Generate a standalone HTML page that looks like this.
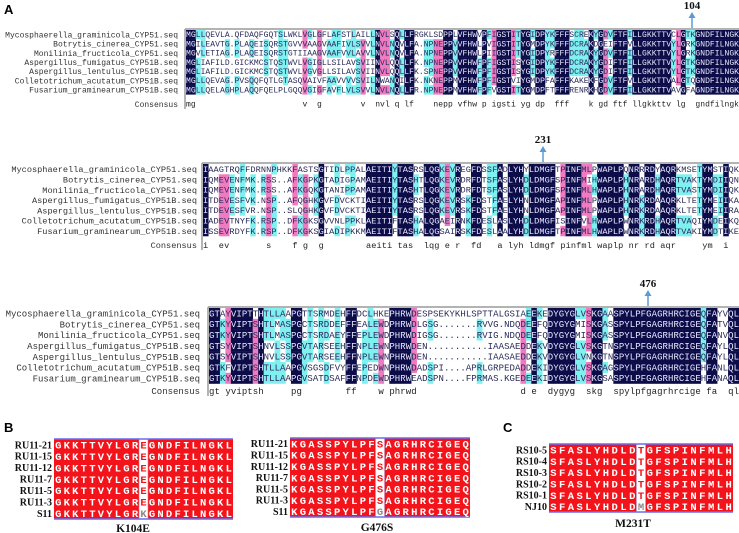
<!DOCTYPE html>
<html><head><meta charset="utf-8">
<style>
html,body{margin:0;padding:0;background:#fff;}
#wrap{position:relative;width:739px;height:533px;overflow:hidden;}
svg{position:absolute;left:0;top:0;}
</style></head>
<body>
<div id="wrap">
<svg id="fig" width="739" height="533" viewBox="0 0 739 533">
  <text x="4" y="14" font-family="Liberation Sans, sans-serif" font-weight="bold" font-size="13">A</text>
  <text x="4" y="432" font-family="Liberation Sans, sans-serif" font-weight="bold" font-size="13">B</text>
  <text x="503" y="432" font-family="Liberation Sans, sans-serif" font-weight="bold" font-size="13">C</text>
</svg>
</div>
<script>
const speciesNames = ["Mycosphaerella_graminicola_CYP51.seq","Botrytis_cinerea_CYP51.seq","Monilinia_fructicola_CYP51.seq","Aspergillus_fumigatus_CYP51B.seq","Aspergillus_lentulus_CYP51B.seq","Colletotrichum_acutatum_CYP51B.seq","Fusarium_graminearum_CYP51B.seq"];
const block1Seqs = [
"MGLLQEVLA.QFDAQFGQTSLWKLVGLGFLAFSTLAILLNVLSQLLFRGKLSDPPLVFHWVPFIGSTITYGIDPYKFFFSCREKYGDVFTFILLGKKTTVCLGTKGNDFILNGK",
"MGILEAVTG.PLAQEISQRSTGVVVAAGVAAFIVLSVVLNVLNQVLFA.NPNEPPVVFHWLPVIGSTITYGMDPYKFFFDCRAKDGEIFTFVLLGKKTTVYLGRKGNDFILNGK",
"MGVLETIAG.PLAQEISQRSTGTIIAAGVAAFVVLAVVLNVLNQVLFA.NPNEPPVVFHWLPIIGSTITYGIDPYRFFFDCRAKYGDVFTFILLGKKTTVYLGRKGNDFILNGK",
"MGLIAFILD.GICKMCSTQSTWVLVGIGLLSILAVSVIINVLQQLLFK.NPNEPPVVFHWFPFIGSTISYGIDPYKFFFDCRAKYGDIFTFILLGKKTTVYLGTKGNDFILNGK",
"MGLIAFILD.GICKMCSTQSTWVLVGVGLLSILAVSVIINVLQQLLFK.SPNEPPVVFHWFPFIGSTISYGIDPYKFFFDCRAKYGDIFTFILLGKKTTVYLGTKGNDFILNGK",
"MGLLQEVAG.PVSQQFQTLGTASQVAIVFAAVVVVSVILNWANQILFK.NKNEPPMVFHWFPFIGSTVIYGMDPFAFFFKAKEKFGDVFTFVLLGKKTTVALGTQGNDFILNGK",
"MGLLQELAGHPLAQQFQELPLGQQVGIGFAVFLVLSVVLNVLNQLLFR.NPNEPPMVFHWFPFVGSTITYGMDPFTFFFRENRKHGDVFTFILLGKKTTVAVGFAGNDFILNGK"];
const block2Seqs = [
"IAAGTRQFFDRNNPHKKFASTSGTIDLPPALAEITIYTASRSLQGKEVREGFDSSFADLYHYLDMGFTPINFMLPWAPLPQNRRRDYAQRKMSETYMSTIQK",
"IQMEVENFMK.RSS..AFKGPKGTADIGPAMAEITIYTASHTLQGKEVRDRFDTSFASLYHDLDMGFSPINFMIHWAPLPHNRARDHAQRTVAKTYMDIIQN",
"IQMEVENFMK.RSS..AFKGQKGTANIPPAMAEITIYTASHTLQGKEVRDRFDTSFASLYHDLDMGFSPINFMLHWAPLPHNRARDHAQRTVASTYMDIIQK",
"ITDEVESFVK.NSP..AFQGHKGVFDVCKTIAEITIYTASRSLQGKEVRSKFDSTFAELYHNLDMGFAPINFMLPWAPLPHNRKRDAAQRKLTETYMEIIKA",
"ITDEVESFVR.NSP..SLQGHKGVFDVCKTIAEITIYTASRSLQGKEVRSKFDSTFAELYHNLDMGFAPINFMLPWAPLPHNRKRDAAQRKLTETYMEIIRA",
"IADEVTNYFK.RSP..DFKGKSGVVNLPPKLAEITIFTASHALQGAEIRNKFDESLASLYHDLDMGFISINFVLHWAPLPWNRKRDHAQRTVAQIYMDEIKQ",
"ISSEVRDYFK.RSP..DFKGKSGIADIPKKMAEITIFTASHALQGSAIRSKFDESLAALYHDLDMGFTPINFMLHWAPLPWNRKRDHAQRTVAKIYMDTIKE"];
const block3Seqs = [
"GTAYVIPTTHTLLAAPGTTSRMDEHFFDCLHKEPHRWDESPSEKYKHLSPTTALGSIAEEKEDYGYGLVSKGAASPYLPFGAGRHRCIGEQFAYVQL",
"GTKYVIPTSHTLMASPGCTSRDDEFFFEALEWDPHRWDLGSG.......RVVG.NDQDEEFQDYGYGMISKGASSPYLPFGAGRHRCIGEQFATVQL",
"GTKYVIPTSHTLMASPGCTSRDAEYFFEPLEWDPHRWDIGSG.......RVIG.NDQDEEFQDYGYGMISKGASSPYLPFGAGRHRCIGEQFANVQL",
"GTSYVIPTSHNVLSSPGVTARSEEHFFNPLEWNPHRWDEN...........IAASAEDDEKVDYGYGLVSKGTNSPYLPFGAGRHRCIGEQFAYLQL",
"GTSYVIPTSHNVLSSPGVTARSEEHFFNPLEWNPHRWDEN...........IAASAEDDEKVDYGYGLVNKGTNSPYLPFGAGRHRCIGEQFAYLQL",
"GTKFVIPTSHTLLAAPGVSGSDFVYFFEPEDWNPHRWDADSPI....APRLGRPEDADDEKIDYGYGLVSKGAGSPYLPFGAGRHRCIGEHFANLQL",
"GTKYVIPTSHTLLAAPGVSATDSAFFFNPDEWDPHRWEADSPN....FPRMAS.KGEDEEKIDYGYGLVSKGSASPYLPFGAGRHRCIGEHFANAQL"];
const markerLabels = ["104","231","476"];

const isolatesB = ["RU11-21","RU11-15","RU11-12","RU11-7","RU11-5","RU11-3","S11"];
const seqB1 = ["GKKTTVYLGREGNDFILNGKL","GKKTTVYLGREGNDFILNGKL","GKKTTVYLGREGNDFILNGKL","GKKTTVYLGREGNDFILNGKL","GKKTTVYLGREGNDFILNGKL","GKKTTVYLGREGNDFILNGKL","GKKTTVYLGRKGNDFILNGKL"];
const seqB2 = ["KGASSPYLPFSAGRHRCIGEQ","KGASSPYLPFSAGRHRCIGEQ","KGASSPYLPFSAGRHRCIGEQ","KGASSPYLPFSAGRHRCIGEQ","KGASSPYLPFSAGRHRCIGEQ","KGASSPYLPFSAGRHRCIGEQ","KGASSPYLPFGAGRHRCIGEQ"];
const isolatesC = ["RS10-5","RS10-4","RS10-3","RS10-2","RS10-1","NJ10"];
const seqC = ["SFASLYHDLDTGFSPINFMLH","SFASLYHDLDTGFSPINFMLH","SFASLYHDLDTGFSPINFMLH","SFASLYHDLDTGFSPINFMLH","SFASLYHDLDTGFSPINFMLH","SFASLYHDLDMGFSPINFMLH"];
const mutTitles = ["K104E","G476S","M231T"];

const NS = "http://www.w3.org/2000/svg";
const svg = document.getElementById("fig");
function mk(tag, attrs){ const e=document.createElementNS(NS,tag); for(const k in attrs) e.setAttribute(k,attrs[k]); return e; }

function drawBlock(seqsIn, cfg, bi){
  const g = mk("g",{});
  
  
  svg.appendChild(g);
  const ncol = seqsIn[0].length;
  const seqs = seqsIn.map(s=>s.length>=ncol?s.slice(0,ncol):s+" ".repeat(ncol-s.length));
  const cw = (739 - cfg.left - 1) / ncol;
  const consensus = [];
  for(let c=0;c<ncol;c++){
    const counts={};
    seqs.forEach(s=>{const ch=s[c]; if(ch!=='.' && ch!==' ') counts[ch]=(counts[ch]||0)+1;});
    let best=null,bc=0; for(const k in counts){ if(counts[k]>bc){bc=counts[k];best=k;} }
    consensus.push(bc>=6?best.toLowerCase():' ');
    seqs.forEach((s,r)=>{
      const ch=s[c]; if(ch==='.'||ch===' ') return;
      const n=counts[ch]; let fill=null;
      if(n===7) fill="#0c0c48"; else if(n===6) fill="#f07ac0"; else if(n>=4) fill="#7ff0f0";
      if(fill){
        const rc=mk("rect",{x:(cfg.left+1+c*cw).toFixed(2),y:(cfg.top+1+r*cfg.rh).toFixed(2),width:(cw+0.3).toFixed(2),height:(cfg.rh+0.2).toFixed(2),fill:fill});
        
        
        g.appendChild(rc);
      }
    });
  }
  const tl=mk("line",{x1:cfg.left,y1:cfg.top,x2:739,y2:cfg.top,stroke:"#9a9a9a","stroke-width":1.5});
  
  
  g.appendChild(tl);
  const vl=mk("line",{x1:cfg.left,y1:cfg.top,x2:cfg.left,y2:cfg.consY+5,stroke:"#9a9a9a","stroke-width":1.5});
  
  
  g.appendChild(vl);
  seqs.forEach((s,r)=>{
    const cy = cfg.top+1+(r+0.5)*cfg.rh;
    const lab=mk("text",{x:cfg.labelX,y:(cy+cfg.fs*0.35).toFixed(2),"text-anchor":"end","font-family":"Liberation Mono, monospace","font-size":cfg.fs,fill:"#333"});
    lab.textContent=speciesNames[r];
    
    
    g.appendChild(lab);
    for(let c=0;c<s.length;c++){
      const ch=s[c];
      if(ch===' ') continue;
      const counts=seqs.filter(q=>q[c]===ch).length;
      const t=mk("text",{x:(cfg.left+1+(c+0.5)*cw).toFixed(2),y:(cy+cfg.fs*0.33).toFixed(2),"text-anchor":"middle","font-family":"Liberation Mono, monospace","font-size":cfg.fs,fill:(counts===7&&ch!=='.')?"#e8e8ff":"#2a2a5a"});
      t.textContent=ch;
      
      
      g.appendChild(t);
    }
  });
  const cl=mk("text",{x:cfg.labelX,y:(cfg.consY+cfg.fs*0.35).toFixed(2),"text-anchor":"end","font-family":"Liberation Mono, monospace","font-size":cfg.fs,fill:"#333"});
  cl.textContent="Consensus";
  
  
  g.appendChild(cl);
  consensus.forEach((ch,c)=>{
    if(ch===' ') return;
    const t=mk("text",{x:(cfg.left+1+(c+0.5)*cw).toFixed(2),y:(cfg.consY+cfg.fs*0.33).toFixed(2),"text-anchor":"middle","font-family":"Liberation Mono, monospace","font-size":cfg.fs,fill:"#222"});
    t.textContent=ch;
    
    
    g.appendChild(t);
  });
  const ax=cfg.arrowX;
  const mt=mk("text",{x:ax,y:cfg.top-20,"text-anchor":"middle","font-family":"Liberation Serif, serif","font-weight":"bold","font-size":11,fill:"#111"});
  mt.textContent=markerLabels[bi];
  
  
  g.appendChild(mt);
  const sh=mk("line",{x1:ax,y1:cfg.top-12,x2:ax,y2:cfg.top-1,stroke:"#5b9bd5","stroke-width":1.5});
  
  
  g.appendChild(sh);
  const hd=mk("polygon",{points:`${ax-3.5},${cfg.top-11} ${ax+3.5},${cfg.top-11} ${ax},${cfg.top-17}`,fill:"#5b9bd5"});
  
  
  g.appendChild(hd);
}

drawBlock(block1Seqs,{left:185,top:29,rh:9.2,consY:104,labelX:178,fs:8,arrowX:692},0);
drawBlock(block2Seqs,{left:202,top:163,rh:10.3,consY:245,labelX:197,fs:8.6,arrowX:543},1);
drawBlock(block3Seqs,{left:208,top:307,rh:10.8,consY:391,labelX:200,fs:9,arrowX:648},2);

function drawMut(labels, seqs, cfg, idx){
  const g=mk("g",{});
  
  
  svg.appendChild(g);
  const ncol=seqs[0].length;
  const cw=(cfg.right-cfg.left)/ncol;
  const rh=(cfg.bottom-cfg.top)/seqs.length;
  const bg=mk("rect",{x:cfg.left,y:cfg.top,width:cfg.right-cfg.left,height:cfg.bottom-cfg.top,fill:"#f2141a"});
  
  
  g.appendChild(bg);
  const mr=mk("rect",{x:cfg.left+cfg.mut*cw,y:cfg.top,width:cw,height:cfg.bottom-cfg.top,fill:"#fff",stroke:"#c8c8f0","stroke-width":0.8});
  
  
  g.appendChild(mr);
  [cfg.top,cfg.bottom].forEach(y=>{
    const l=mk("line",{x1:cfg.left,y1:y,x2:cfg.right,y2:y,stroke:"#6b6bf0","stroke-width":1.5});
    
    
    g.appendChild(l);
  });
  seqs.forEach((s,r)=>{
    const cy=cfg.top+(r+0.5)*rh;
    const lab=mk("text",{x:cfg.left-2,y:(cy+3.6).toFixed(2),"text-anchor":"end","font-family":"Liberation Serif, serif","font-weight":"bold","font-size":10,fill:"#111"});
    lab.textContent=labels[r];
    
    
    g.appendChild(lab);
    for(let c=0;c<ncol;c++){
      const isM=c===cfg.mut;
      const ref=seqs[0][c];
      const t=mk("text",{x:(cfg.left+(c+0.5)*cw).toFixed(2),y:(cy+3.8).toFixed(2),"text-anchor":"middle","font-family":"Liberation Mono, monospace","font-weight":"bold","font-size":cfg.fs,fill:isM?(s[c]===ref?"#f2141a":"#888"):"#fff"});
      t.textContent=s[c];
      
      
      g.appendChild(t);
    }
  });
  const tt=mk("text",{x:cfg.titleX,y:cfg.titleY,"text-anchor":"middle","font-family":"Liberation Serif, serif","font-weight":"bold","font-size":11.5,fill:"#111"});
  tt.textContent=mutTitles[idx];
  
  
  g.appendChild(tt);
}
drawMut(isolatesB, seqB1, {left:54,right:233,top:439,bottom:519,mut:10,fs:10.5,titleX:133,titleY:532}, 0);
drawMut(isolatesB, seqB2, {left:290,right:470,top:438,bottom:517,mut:10,fs:10.5,titleX:377,titleY:531}, 1);
drawMut(isolatesC, seqC, {left:549,right:733,top:444,bottom:512,mut:10,fs:10.5,titleX:633,titleY:527}, 2);
</script>
</body></html>
